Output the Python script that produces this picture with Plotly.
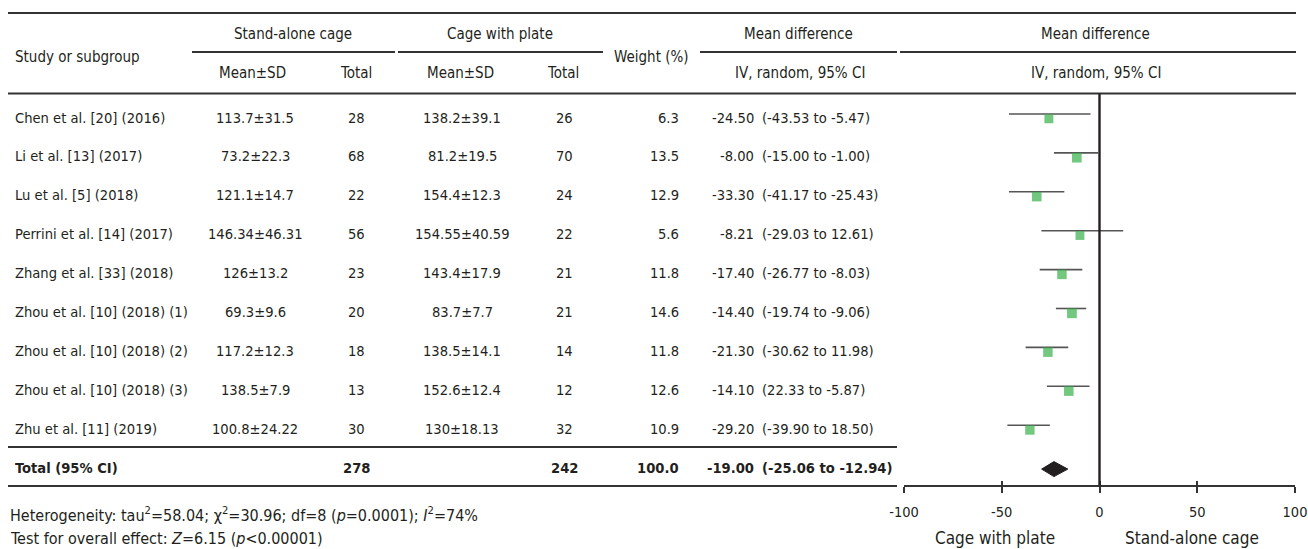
import plotly.graph_objects as go

# ---------------- data ----------------
studies = ["Chen et al. [20] (2016)", "Li et al. [13] (2017)", "Lu et al. [5] (2018)",
           "Perrini et al. [14] (2017)", "Zhang et al. [33] (2018)",
           "Zhou et al. [10] (2018) (1)", "Zhou et al. [10] (2018) (2)",
           "Zhou et al. [10] (2018) (3)", "Zhu et al. [11] (2019)"]
sa_mean_sd = ["113.7±31.5", "73.2±22.3", "121.1±14.7", "146.34±46.31", "126±13.2",
              "69.3±9.6", "117.2±12.3", "138.5±7.9", "100.8±24.22"]
sa_total = [28, 68, 22, 56, 23, 20, 18, 13, 30]
cp_mean_sd = ["138.2±39.1", "81.2±19.5", "154.4±12.3", "154.55±40.59", "143.4±17.9",
              "83.7±7.7", "138.5±14.1", "152.6±12.4", "130±18.13"]
cp_total = [26, 70, 24, 22, 21, 21, 14, 12, 32]
weights = [6.3, 13.5, 12.9, 5.6, 11.8, 14.6, 11.8, 12.6, 10.9]
md_text = ["-24.50", "-8.00", "-33.30", "-8.21", "-17.40", "-14.40", "-21.30", "-14.10", "-29.20"]
ci_text = ["(-43.53 to -5.47)", "(-15.00 to -1.00)", "(-41.17 to -25.43)", "(-29.03 to 12.61)",
           "(-26.77 to -8.03)", "(-19.74 to -9.06)", "(-30.62 to 11.98)", "(22.33 to -5.87)",
           "(-39.90 to 18.50)"]
total_label = "Total (95% CI)"
total_sa = 278
total_cp = 242
total_weight = "100.0"
total_md_text = "-19.00"
total_ci_text = "(-25.06 to -12.94)"

# positions of the marks as drawn in the forest plot
plot_md = [-25.9, -11.6, -32.1, -10.0, -19.2, -14.1, -26.4, -15.7, -35.6]
plot_lo = [-46.3, -23.3, -46.3, -29.7, -30.6, -22.3, -37.8, -26.9, -47.1]
plot_hi = [-4.6, -0.7, -18.0, 12.1, -8.8, -6.8, -16.0, -5.1, -25.4]
total_md, total_lo, total_hi = -23.3, -29.6, -16.2

tick_vals = [-100, -50, 0, 50, 100]
tick_text = ["-100", "-50", "0", "50", "100"]
left_label = "Cage with plate"
right_label = "Stand-alone cage"

# ---------------- layout helpers ----------------
W, H = 1308, 549
FONT = "DejaVu Sans Condensed, Liberation Sans Narrow, sans-serif"
TXT = "#231f20"
LINE = "#333333"
FS = 14.6
FH = 15
ROW0, ROWSTEP = 117, 38.9
row_y = [ROW0 + ROWSTEP * i for i in range(len(studies))]
total_y = ROW0 + ROWSTEP * len(studies)

fig = go.Figure()
ann = []


def txt(x, y, s, anchor="center", bold=False, size=FS):
    ann.append(dict(x=x / W, xref="paper", y=y, yref="y", text=s, showarrow=False,
                    xanchor=anchor, yanchor="middle",
                    font=dict(family=FONT, size=size, color=TXT,
                              weight="bold" if bold else "normal")))


shapes = []


def hline(x0, x1, y, w=1.8):
    shapes.append(dict(type="line", xref="paper", yref="y", x0=x0 / W, x1=x1 / W,
                       y0=y, y1=y, line=dict(color=LINE, width=w)))


# header text
txt(13, 57, "Study or subgroup", "left", size=FH)
txt(293, 34, "Stand-alone cage", size=FH)
txt(500, 34, "Cage with plate", size=FH)
txt(651, 57, "Weight (%)", size=FH)
txt(798, 34, "Mean difference", size=FH)
txt(1095, 34, "Mean difference", size=FH)
txt(253, 73, "Mean±SD", size=FH)
txt(356, 73, "Total", size=FH)
txt(460, 73, "Mean±SD", size=FH)
txt(563, 73, "Total", size=FH)
txt(800, 73, "IV, random, 95% CI", size=FH)
txt(1096, 73, "IV, random, 95% CI", size=FH)

# body rows
for i, y in enumerate(row_y):
    txt(13, y, studies[i], "left")
    txt(255, y, sa_mean_sd[i])
    txt(356, y, str(sa_total[i]))
    txt(462, y, cp_mean_sd[i])
    txt(564, y, str(cp_total[i]))
    txt(681, y, f"{weights[i]:.1f}", "right")
    txt(756, y, md_text[i], "right")
    txt(760, y, ci_text[i], "left")

txt(13, total_y, total_label, "left", bold=True)
txt(356, total_y, str(total_sa), bold=True)
txt(564, total_y, str(total_cp), bold=True)
txt(681, total_y, total_weight, "right", bold=True)
txt(756, total_y, total_md_text, "right", bold=True)
txt(760, total_y, total_ci_text, "left", bold=True)

txt(8, 514, "Heterogeneity: tau<sup>2</sup>=58.04; χ<sup>2</sup>=30.96; df=8 (<i>p</i>=0.0001); <i>I</i><sup>2</sup>=74%",
    "left", size=16)
txt(8, 538, "Test for overall effect: <i>Z</i>=6.15 (<i>p</i>&lt;0.00001)", "left", size=16)
txt(995, 538, left_label, size=17)
txt(1192, 538, right_label, size=17)

# table rules
hline(8, 1296, 13, 2)
hline(192, 395, 52)
hline(398, 603, 52)
hline(700, 897, 52)
hline(900, 1296, 52)
hline(8, 1296, 93.5, 2)
hline(8, 897, 447, 2)
hline(8, 897, 486, 2)

# zero line
shapes.append(dict(type="line", xref="x", yref="y", x0=0, x1=0, y0=93.5, y1=485.5,
                   line=dict(color=TXT, width=2.4)))

# CI lines
ci_x, ci_y = [], []
for lo, hi, y in zip(plot_lo, plot_hi, row_y):
    ci_x += [lo, hi, None]
    ci_y += [y - 3, y - 3, None]
fig.add_trace(go.Scatter(x=ci_x, y=ci_y, mode="lines", line=dict(color="#555555", width=1.6),
                         hoverinfo="skip", showlegend=False))

# squares
fig.add_trace(go.Scatter(x=plot_md, y=[y + 1.8 for y in row_y], mode="markers",
                         marker=dict(symbol="square", color="#38b048",
                                     size=[8.3 + 0.1 * w for w in weights], line=dict(width=0)),
                         hoverinfo="skip", showlegend=False))

# diamond
dy = total_y + 2
fig.add_trace(go.Scatter(x=[total_lo, total_md, total_hi, total_md, total_lo],
                         y=[dy, dy - 7.5, dy, dy + 7.5, dy], mode="lines", fill="toself",
                         fillcolor=TXT, line=dict(color=TXT, width=1),
                         hoverinfo="skip", showlegend=False))

axis_pos = 1 - 485.5 / H
dom = [904 / W, 1295 / W]
fig.update_layout(
    width=W, height=H, margin=dict(l=0, r=0, t=0, b=0, autoexpand=False),
    paper_bgcolor="white", plot_bgcolor="white",
    annotations=ann, shapes=shapes, showlegend=False,
    xaxis=dict(range=[-100, 100], domain=dom, anchor="free", position=axis_pos,
               showline=True, linecolor=LINE, linewidth=2, ticks="outside", ticklen=6,
               tickwidth=2, tickcolor=LINE, tickvals=tick_vals, ticktext=tick_text,
               tickfont=dict(family=FONT, size=14.5, color=TXT), ticklabelstandoff=7,
               showgrid=False, zeroline=False, fixedrange=True, automargin=False),
    xaxis2=dict(range=[-100, 100], domain=dom, anchor="free", position=axis_pos,
                overlaying="x", showline=False, ticks="inside", ticklen=5, tickwidth=2,
                tickcolor=LINE, tickvals=tick_vals, showticklabels=False,
                showgrid=False, zeroline=False, fixedrange=True, automargin=False),
    yaxis=dict(range=[H, 0], domain=[0, 1], visible=False, fixedrange=True, automargin=False),
)
fig.add_trace(go.Scatter(x=[None], y=[None], xaxis="x2", showlegend=False, hoverinfo="skip"))

fig.write_html("out.html", config={"displayModeBar": False},
               post_script="document.body.style.margin='0';document.body.style.overflow='hidden';")
